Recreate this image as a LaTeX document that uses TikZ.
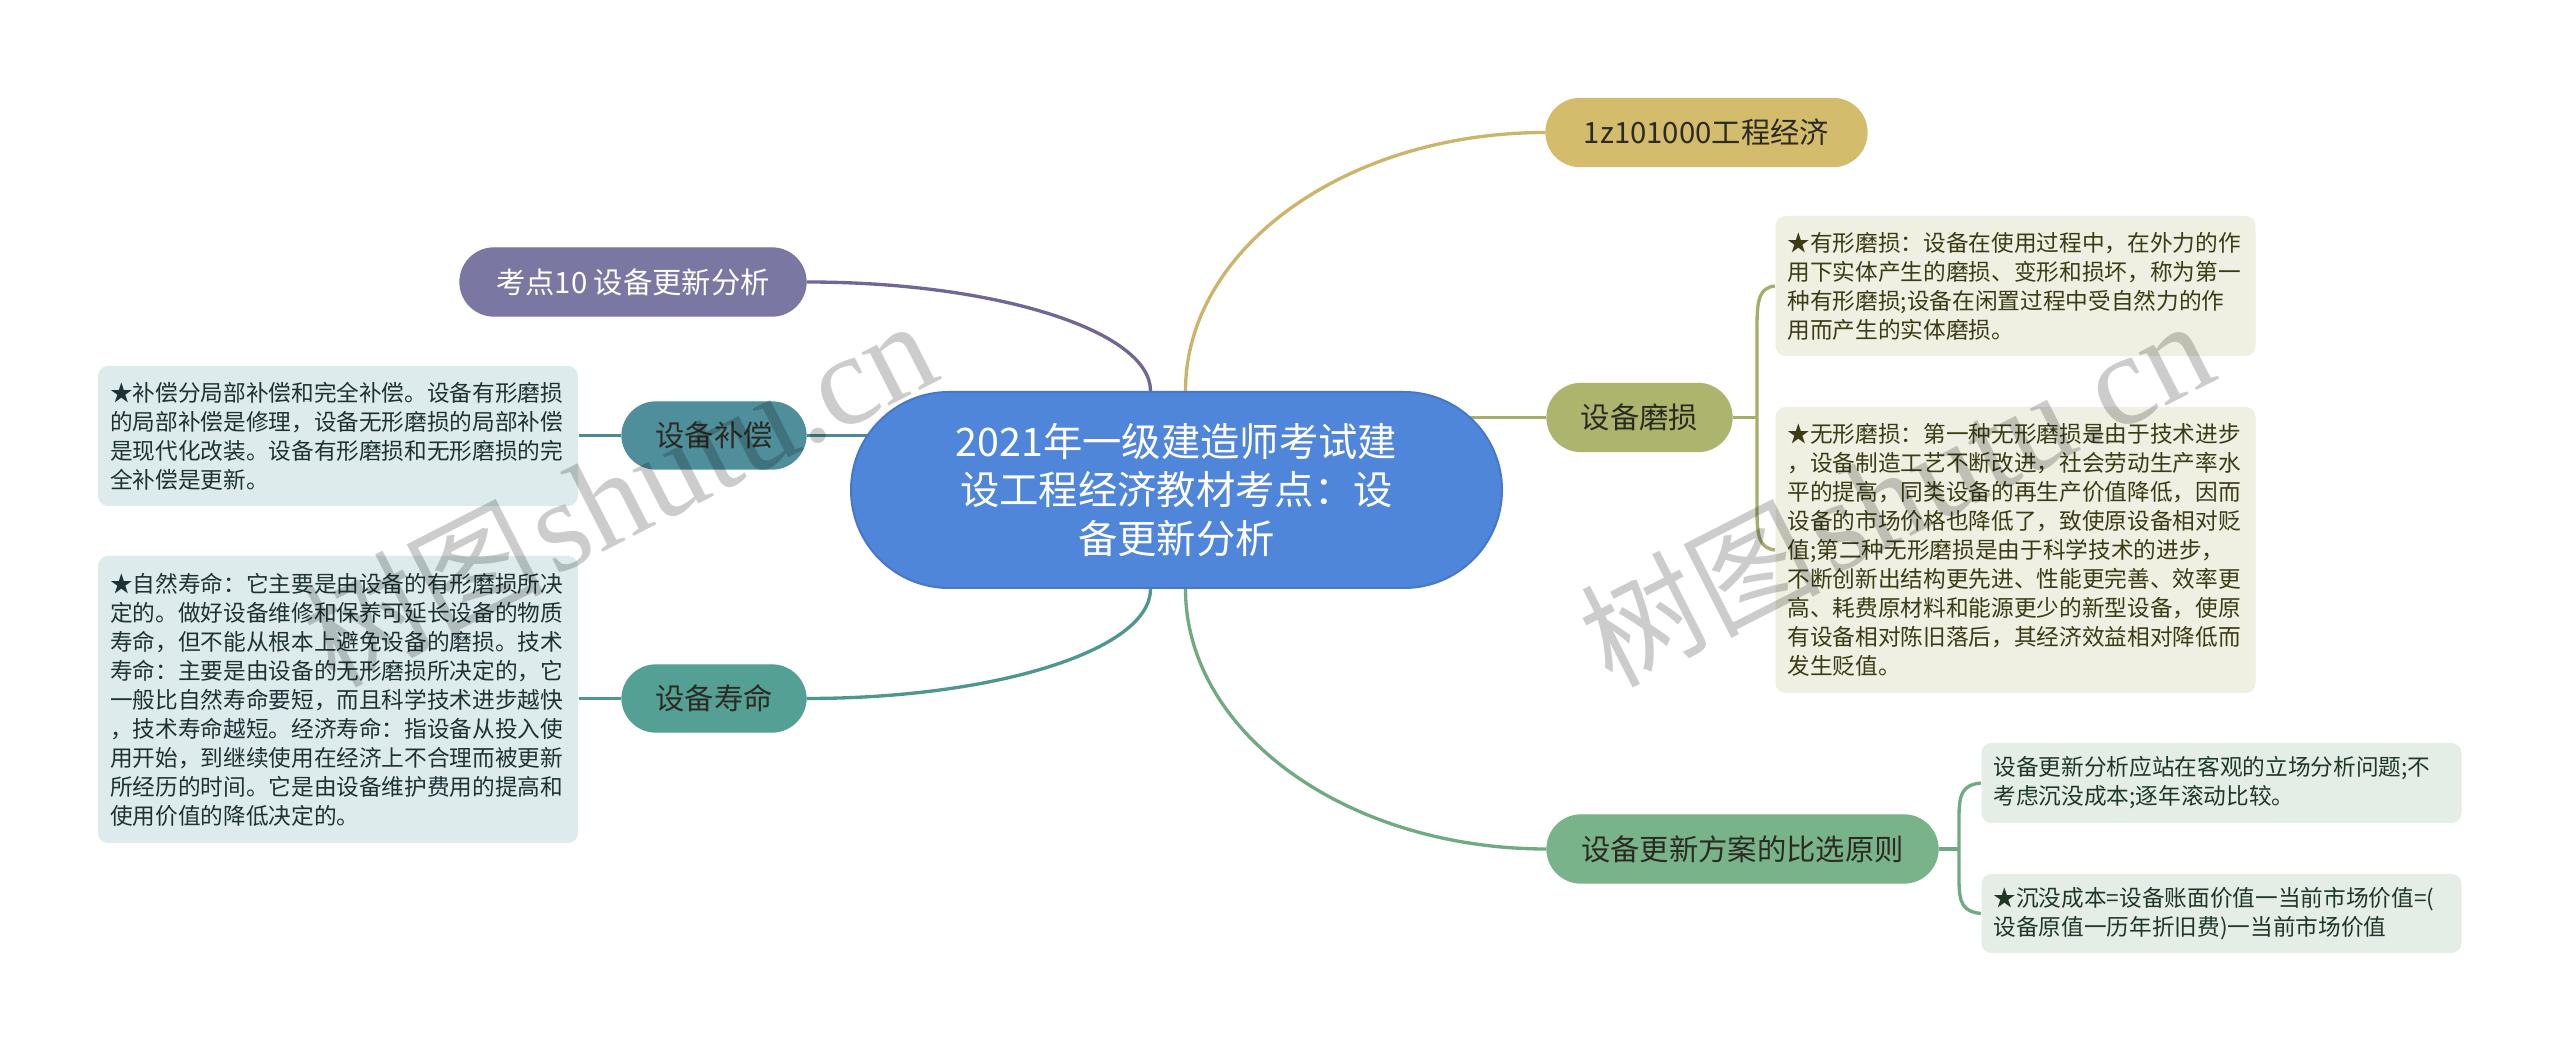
\documentclass[tikz,border=0pt]{standalone}
\usepackage{fontspec}
\setmainfont{Noto Sans CJK SC}
\newfontfamily\wmlatin{Liberation Serif}
\usetikzlibrary{calc,backgrounds}

\definecolor{ctrfill}{HTML}{4F86D9}
\definecolor{ctrline}{HTML}{4677C8}
\definecolor{goldfill}{HTML}{D3BC6C}
\definecolor{goldline}{HTML}{CCB56A}
\definecolor{olivefill}{HTML}{ADB46E}
\definecolor{oliveline}{HTML}{A6AD6A}
\definecolor{greenfill}{HTML}{79B38A}
\definecolor{greenline}{HTML}{70A982}
\definecolor{purplefill}{HTML}{7A77A2}
\definecolor{purpleline}{HTML}{6C6996}
\definecolor{tealAfill}{HTML}{4F8F9C}
\definecolor{tealAline}{HTML}{4A8995}
\definecolor{tealBfill}{HTML}{55A095}
\definecolor{tealBline}{HTML}{4F978C}
\definecolor{olivebox}{HTML}{EFEFE2}
\definecolor{olivetext}{HTML}{3B3B16}
\definecolor{tealbox}{HTML}{DEEBEC}
\definecolor{tealtext}{HTML}{1E3236}
\definecolor{greenbox}{HTML}{E4EEE6}
\definecolor{greentext}{HTML}{1F3826}
\definecolor{darktext}{HTML}{2B2B22}

\begin{document}
\begin{tikzpicture}[x=0.3pt,y=-0.3pt,
  topic/.style={rounded corners=10.2pt, minimum height=20.4pt, inner sep=0pt,
    font=\fontsize{8.8pt}{10pt}\selectfont},
  leafbox/.style={rounded corners=3pt, inner xsep=3.6pt, inner ysep=0pt,
    text width=136.8pt, align=left, font=\fontsize{6.8pt}{8.7pt}\selectfont},
  link/.style={line width=1pt},
  watermark/.style={rotate=27, anchor=base east, text=black, text opacity=0.2, inner sep=0pt}
]
\useasboundingbox (0,0) rectangle (2560,1053);

% central topic
\node[fill=ctrfill, draw=ctrline, line width=0.6pt, rounded corners=29.4pt,
      minimum width=195.3pt, minimum height=58.8pt, inner sep=0pt,
      text=white, align=center, font=\fontsize{11.8pt}{14.6pt}\selectfont]
  (ctr) at (1176.5,490) {2021年一级建造师考试建\\设工程经济教材考点：设\\备更新分析};

% main branches
\node[topic, fill=goldfill, draw=goldfill, minimum width=96.3pt, text=darktext]
  (gz) at (1706.5,132.5) {1z101000工程经济};
\node[topic, fill=olivefill, draw=olivefill, minimum width=55.5pt, text=darktext]
  (ms) at (1639.5,417.5) {设备磨损};
\node[topic, fill=greenfill, draw=greenfill, minimum width=117.3pt, text=darktext]
  (bx) at (1742.5,849) {设备更新方案的比选原则};
\node[topic, fill=purplefill, draw=purplefill, minimum width=103.8pt, text=white]
  (kd) at (633,282) {考点10 设备更新分析};
\node[topic, fill=tealAfill, draw=tealAfill, minimum width=55.2pt, minimum height=20.1pt, text=darktext]
  (bc) at (714,435.5) {设备补偿};
\node[topic, fill=tealBfill, draw=tealBfill, minimum width=55.2pt, minimum height=20.1pt, text=darktext]
  (sm) at (714,698.5) {设备寿命};

% leaf boxes
\node[leafbox, fill=olivebox, text=olivetext, minimum height=42pt] (b1) at (2015.5,286)
  {★有形磨损：设备在使用过程中，在外力的作\\用下实体产生的磨损、变形和损坏，称为第一\\种有形磨损;设备在闲置过程中受自然力的作\\用而产生的实体磨损。};
\node[leafbox, fill=olivebox, text=olivetext, minimum height=85.8pt] (b2) at (2015.5,550)
  {★无形磨损：第一种无形磨损是由于技术进步\\，设备制造工艺不断改进，社会劳动生产率水\\平的提高，同类设备的再生产价值降低，因而\\设备的市场价格也降低了，致使原设备相对贬\\值;第二种无形磨损是由于科学技术的进步，\\不断创新出结构更先进、性能更完善、效率更\\高、耗费原材料和能源更少的新型设备，使原\\有设备相对陈旧落后，其经济效益相对降低而\\发生贬值。};
\node[leafbox, fill=tealbox, text=tealtext, minimum height=42pt] (b3) at (338,436)
  {★补偿分局部补偿和完全补偿。设备有形磨损\\的局部补偿是修理，设备无形磨损的局部补偿\\是现代化改装。设备有形磨损和无形磨损的完\\全补偿是更新。};
\node[leafbox, fill=tealbox, text=tealtext, minimum height=86.1pt] (b4) at (338,699.5)
  {★自然寿命：它主要是由设备的有形磨损所决\\定的。做好设备维修和保养可延长设备的物质\\寿命，但不能从根本上避免设备的磨损。技术\\寿命：主要是由设备的无形磨损所决定的，它\\一般比自然寿命要短，而且科学技术进步越快\\，技术寿命越短。经济寿命：指设备从投入使\\用开始，到继续使用在经济上不合理而被更新\\所经历的时间。它是由设备维护费用的提高和\\使用价值的降低决定的。};
\node[leafbox, fill=greenbox, text=greentext, minimum height=24pt] (b5) at (2221.5,783)
  {设备更新分析应站在客观的立场分析问题;不\\考虑沉没成本;逐年滚动比较。};
\node[leafbox, fill=greenbox, text=greentext, minimum height=23.7pt] (b6) at (2221.5,913.5)
  {★沉没成本=设备账面价值一当前市场价值=(\\设备原值一历年折旧费)一当前市场价值};

\coordinate (mj) at (1757,417.5);
\coordinate (gj) at (1959,849);

\begin{scope}[on background layer]
  \fill[white] (0,0) rectangle (2560,1053);
  % center to main branches
  \draw[link, purpleline] (kd.east) .. controls ($(kd.east)+(190,0)$) and ($(ctr.north)+(-26,-60)$) .. ($(ctr.north)+(-26,0)$);
  \draw[link, goldline] ($(ctr.north)+(9,0)$) .. controls ($(ctr.north)+(9,-143)$) and ($(gz.west)+(-199,0)$) .. (gz.west);
  \draw[link, oliveline] (ms.west) -- (ms.west -| ctr.center);
  \draw[link, tealAline] (bc.east) -- (bc.east -| ctr.center);
  \draw[link, greenline] ($(ctr.south)+(9,0)$) .. controls ($(ctr.south)+(9,144)$) and ($(bx.west)+(-199,0)$) .. (bx.west);
  \draw[link, tealBline] ($(ctr.south)+(-26,0)$) .. controls ($(ctr.south)+(-26,61)$) and ($(sm.east)+(189,0)$) .. (sm.east);
  % left leaves
  \draw[link, tealAline] (bc.west) -- (bc.west -| b3.east);
  \draw[link, tealBline] (sm.west) -- (sm.west -| b4.east);
  % olive bracket
  \draw[link, oliveline] (ms.east) -- (mj);
  \draw[link, oliveline] (b1.west) .. controls ($(b1.west)+(-15,2)$) and ($(mj|-b1.west)+(0,12)$) .. ($(mj|-b1.west)+(0,40)$)
     -- ($(mj|-b2.west)+(0,-40)$) .. controls ($(mj|-b2.west)+(0,-12)$) and ($(b2.west)+(-15,-2)$) .. (b2.west);
  % green bracket
  \draw[link, greenline] (bx.east) -- (gj);
  \draw[link, greenline] (b5.west) .. controls ($(b5.west)+(-18,2)$) and ($(gj|-b5.west)+(0,10)$) .. ($(gj|-b5.west)+(0,34)$)
     -- ($(gj|-b6.west)+(0,-34)$) .. controls ($(gj|-b6.west)+(0,-10)$) and ($(b6.west)+(-18,-2)$) .. (b6.west);
\end{scope}

% watermarks
\node[watermark] (wm1) at (945,378) {{\fontsize{36pt}{36pt}\selectfont 树图} {\wmlatin\fontsize{39pt}{39pt}\selectfont shutu.cn}};
\node[watermark] (wm2) at (2222,378) {{\fontsize{36pt}{36pt}\selectfont 树图} {\wmlatin\fontsize{39pt}{39pt}\selectfont shutu.cn}};
\end{tikzpicture}
\end{document}
